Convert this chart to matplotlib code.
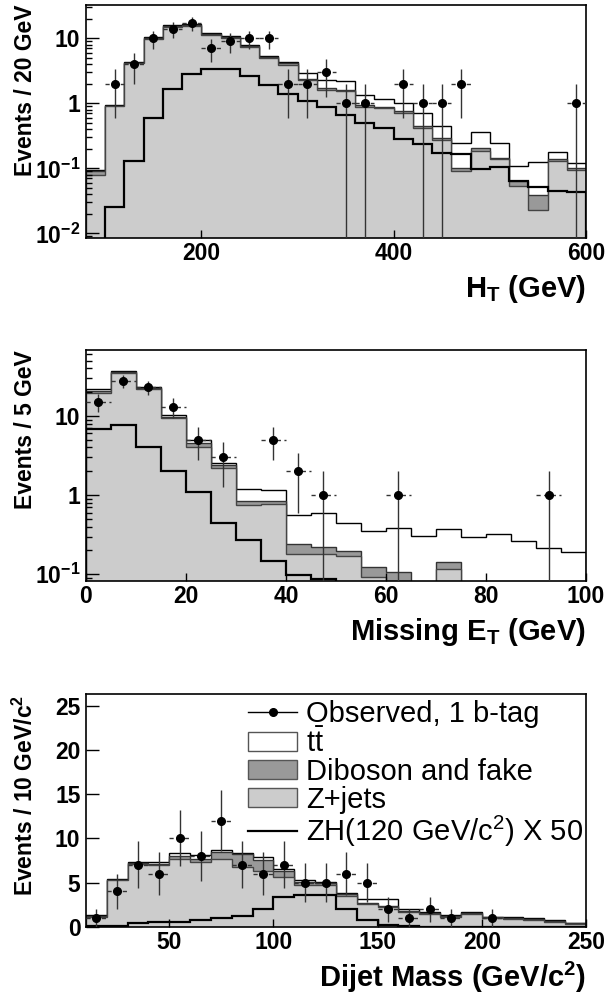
import numpy as np
import matplotlib
matplotlib.use('Agg')
import matplotlib.pyplot as plt
from matplotlib.patches import Patch
from matplotlib.lines import Line2D

plt.rcParams['font.family'] = ['Liberation Sans', 'DejaVu Sans']
plt.rcParams['mathtext.fontset'] = 'custom'
plt.rcParams['mathtext.rm'] = 'Liberation Sans'
plt.rcParams['mathtext.bf'] = 'Liberation Sans:bold'
plt.rcParams['mathtext.it'] = 'Liberation Sans:italic'

# H_T, 20 GeV bins 80..600
ht_edges = np.arange(80, 601, 20)
ht_zjets = [0.079, 0.90, 4.1, 9.9, 15.0, 15.5, 11.4, 10.1, 7.4, 4.9, 3.9, 2.3, 1.62,
            1.55, 0.88, 0.85, 0.72, 0.42, 0.27, 0.091, 0.187, 0.14, 0.054, 0.023, 0.13, 0.094]
ht_dibos = [0.013, 0.02, 0.1, 0.2, 0.4, 0.4, 0.3, 0.3, 0.3, 0.2, 0.2, 0.1, 0.08,
            0.05, 0.05, 0.03, 0.04, 0.03, 0.02, 0.012, 0.017, 0.006, 0.01, 0.016, 0.007, 0.006]
ht_ttbar = [0.002, 0.01, 0.1, 0.2, 0.4, 0.4, 0.3, 0.3, 0.3, 0.2, 0.2, 0.5, 0.6,
            0.6, 0.41, 0.29, 0.26, 0.25, 0.16, 0.145, 0.153, 0.102, 0.044, 0.084, 0.043, 0.019]
ht_zh = [0, 0.025, 0.13, 0.6, 1.64, 2.8, 3.4, 3.4, 2.6, 1.9, 1.39, 1.08, 0.89,
         0.66, 0.49, 0.41, 0.28, 0.235, 0.17, 0.166, 0.098, 0.106, 0.064, 0.051, 0.045, 0.043]
ht_obs = [0, 2, 4, 10, 14, 17, 7, 9, 10, 10, 2, 2, 3, 1, 1, 0, 2, 1, 1, 2, 0, 0, 0, 0, 0, 1]

# missing E_T, 5 GeV bins 0..100
met_edges = np.arange(0, 101, 5)
met_zjets = [19.2, 34.4, 21.8, 9.3, 4.08, 2.17, 0.76, 0.78, 0.183, 0.178, 0.17, 0.093,
             0, 0, 0.116, 0, 0, 0, 0, 0]
met_dibos = [1.3, 1.1, 0.7, 0.4, 0.42, 0.23, 0.08, 0.06, 0.055, 0.042, 0.026, 0.031,
             0.108, 0, 0.025, 0, 0, 0, 0, 0]
met_ttbar = [1.3, 1.5, 0.8, 0.5, 0.45, 0.16, 0.37, 0.32, 0.33, 0.367, 0.254, 0.226,
             0.279, 0.306, 0.231, 0.298, 0.32, 0.265, 0.212, 0.189]
met_zh = [6.8, 7.7, 4.1, 2.0, 1.1, 0.45, 0.27, 0.148, 0.098, 0.087, 0, 0,
          0, 0, 0, 0, 0, 0, 0, 0]
met_obs = [15, 28, 23, 13, 5, 3, 0, 5, 2, 1, 0, 0, 1, 0, 0, 0, 0, 0, 1, 0]

# dijet mass, 10 GeV bins 10..250
mjj_edges = np.arange(10, 251, 10)
mjj_zjets = [1.06, 5.28, 7.09, 6.98, 7.65, 7.35, 7.65, 6.8, 6.33, 5.58, 4.71, 4.7,
             3.47, 2.56, 2.19, 1.66, 1.43, 1.13, 1.43, 0.94, 0.87, 0.75, 0.57, 0.3]
mjj_dibos = [0.14, 0.05, 0.11, 0.17, 0.35, 0.35, 0.75, 1.4, 1.27, 0.72, 0.38, 0.25,
             0.18, 0.14, 0.16, 0.14, 0.12, 0.12, 0.12, 0.11, 0.11, 0.10, 0.10, 0.10]
mjj_ttbar = [0.12, 0.06, 0.15, 0.13, 0.3, 0.4, 0.27, 0.17, 0.24, 0.19, 0.19, 0.14,
             0.12, 0.39, 0.78, 0.16, 0.15, 0.07, 0.07, 0.08, 0.08, 0.09, 0.08, 0.05]
mjj_zh = [0.05, 0.1, 0.38, 0.5, 0.57, 0.75, 0.94, 1.2, 2.0, 3.4, 3.6, 3.6,
          1.96, 0.75, 0.2, 0.05, 0, 0, 0, 0, 0, 0, 0, 0]
mjj_obs = [1, 4, 7, 6, 10, 8, 12, 7, 6, 7, 5, 5, 6, 5, 2, 1, 2, 1, 0, 1, 0, 0, 0, 0]

C_ZJ = '#cccccc'
C_DB = '#999999'
YLAB_X = -0.097  # y labels position, axes coords


def draw_panel(ax, edges, zj, db, tt, zh, obs, log):
  zj = np.array(zj, float)
  s1 = zj + np.array(db, float)
  s2 = s1 + np.array(tt, float)
  zh = np.array(zh, float)
  floor = 1e-4 if log else 0
  ax.stairs(np.maximum(s2, floor), edges, baseline=floor, fill=True,
            facecolor='white', edgecolor='black', lw=1.0)
  ax.stairs(np.maximum(s1, floor), edges, baseline=floor, fill=True,
            facecolor=C_DB, edgecolor='#333333', lw=1.0)
  ax.stairs(np.maximum(zj, floor), edges, baseline=floor, fill=True,
            facecolor=C_ZJ, edgecolor='#444444', lw=1.0)
  ax.stairs(np.maximum(zh, floor), edges, baseline=floor, color='black', lw=1.6)

  obs = np.array(obs, float)
  centers = 0.5 * (edges[:-1] + edges[1:])
  half = 0.5 * (edges[1] - edges[0])
  m = obs > 0
  err = np.sqrt(obs[m])
  ax.vlines(centers[m], np.maximum(obs[m] - err, floor), obs[m] + err,
            colors='#333333', lw=1.0, zorder=5)
  ax.hlines(obs[m], centers[m] - half, centers[m] + half, colors='#333333',
            lw=1.0, linestyles=(0, (3, 2.5)), zorder=5)
  ax.plot(centers[m], obs[m], 'o', color='black', ms=5.5, zorder=6)

  ax.set_xlim(edges[0], edges[-1])
  ax.tick_params(axis='both', which='both', direction='in', top=False, right=False,
                 labelsize=16.5, width=1.0)
  ax.tick_params(axis='y', which='major', length=9, pad=4)
  ax.tick_params(axis='y', which='minor', length=4.5)
  ax.tick_params(axis='x', which='major', length=6, pad=3)
  ax.tick_params(axis='x', which='minor', length=0)
  for sp in ax.spines.values():
    sp.set_linewidth(1.2)


def finish(ax, ylabel, xlabel, xpad):
  for lab in ax.get_xticklabels() + ax.get_yticklabels():
    lab.set_fontweight('bold')
  ax.set_ylabel(ylabel, fontsize=16.5, fontweight='bold', loc='top')
  ax.yaxis.set_label_coords(YLAB_X, 1.0)
  ax.set_xlabel(xlabel, fontsize=21, fontweight='bold', loc='right', labelpad=xpad)


fig = plt.figure(figsize=(6.16, 9.94), dpi=100)
L, W = 0.1396, 0.8117

ax1 = fig.add_axes([L, 0.7606, W, 0.2344])
draw_panel(ax1, ht_edges, ht_zjets, ht_dibos, ht_ttbar, ht_zh, ht_obs, True)
ax1.set_yscale('log')
ax1.set_ylim(0.0085, 32.5)
ax1.set_yticks([0.01, 0.1, 1, 10])
ax1.set_yticklabels([r'$\mathbf{10^{-2}}$', r'$\mathbf{10^{-1}}$', '1', '10'])
ax1.set_xticks([200, 400, 600])
finish(ax1, 'Events / 20 GeV', r'$\mathbf{H_T}$ (GeV)', 6)

ax2 = fig.add_axes([L, 0.4158, W, 0.2321])
draw_panel(ax2, met_edges, met_zjets, met_dibos, met_ttbar, met_zh, met_obs, True)
ax2.set_yscale('log')
ax2.set_ylim(0.083, 68)
ax2.set_yticks([0.1, 1, 10])
ax2.set_yticklabels([r'$\mathbf{10^{-1}}$', '1', '10'])
ax2.set_xticks([0, 20, 40, 60, 80, 100])
finish(ax2, 'Events / 5 GeV', r'Missing $\mathbf{E_T}$ (GeV)', 6)

ax3 = fig.add_axes([L, 0.0677, W, 0.2338])
draw_panel(ax3, mjj_edges, mjj_zjets, mjj_dibos, mjj_ttbar, mjj_zh, mjj_obs, False)
ax3.set_ylim(0, 26.3)
ax3.set_yticks([0, 5, 10, 15, 20, 25])
ax3.set_xticks([50, 100, 150, 200, 250])
finish(ax3, r'Events / 10 GeV/c$\mathbf{^2}$', r'Dijet Mass (GeV/c$\mathbf{^2}$)', 4)

handles = [
  Line2D([], [], color='black', lw=1.0, marker='o', ms=5.5),
  Patch(facecolor='white', edgecolor='#555555', lw=1.0),
  Patch(facecolor=C_DB, edgecolor='#555555', lw=1.0),
  Patch(facecolor=C_ZJ, edgecolor='#555555', lw=1.0),
  Line2D([], [], color='black', lw=1.6),
]
labels = ['Observed, 1 b-tag', r't$\bar{\mathrm{t}}$', 'Diboson and fake', 'Z+jets',
          r'ZH(120 GeV/c$^2$) X 50']
ax3.legend(handles, labels, loc='upper left', bbox_to_anchor=(0.312, 1.0), frameon=False,
           fontsize=21, handlelength=1.7, handleheight=0.66, handletextpad=0.3,
           labelspacing=0.0, borderpad=0.2, borderaxespad=0.0)

fig.savefig('out.png', dpi=100)
